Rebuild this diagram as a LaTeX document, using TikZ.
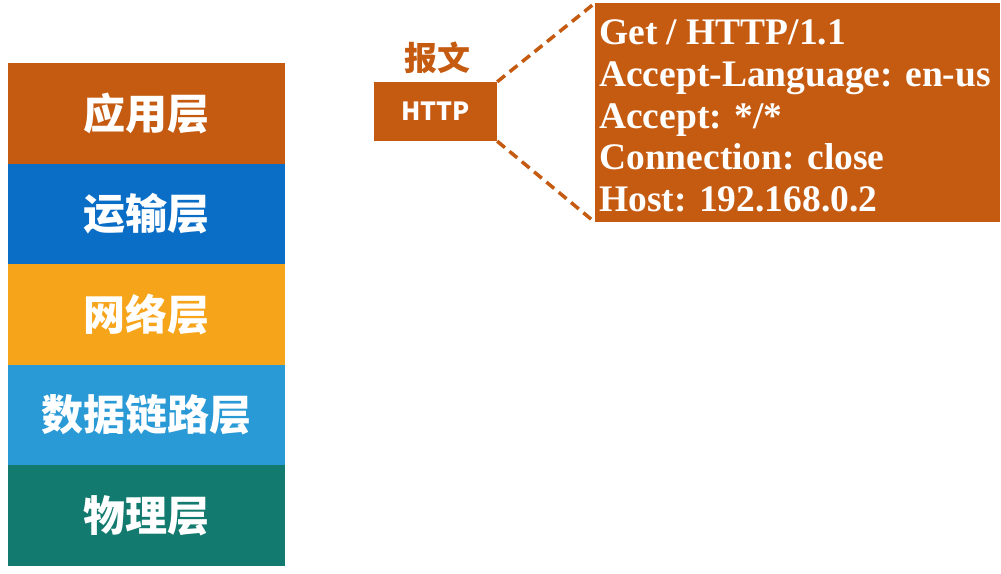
\documentclass[tikz,border=0pt]{standalone}
\usepackage{fontspec}
\setmainfont{Liberation Serif}
\newfontfamily\cjkfont{Noto Sans CJK SC}
\definecolor{appc}{HTML}{C55A11}
\definecolor{trac}{HTML}{0A6DC6}
\definecolor{netc}{HTML}{F6A41A}
\definecolor{dlc}{HTML}{2A9AD6}
\definecolor{phyc}{HTML}{127A6E}
\begin{document}
\begin{tikzpicture}[x=1pt,y=-1pt,
  layer/.style={minimum width=277pt,minimum height=100.6pt,inner sep=0pt,outer sep=0pt,text=white,
    font=\cjkfont\bfseries\fontsize{42}{46}\selectfont},
  httpbox/.style={fill=appc,minimum width=123pt,minimum height=59pt,inner sep=0pt,text=white,
    font=\cjkfont\bfseries\fontsize{25}{30}\selectfont},
  detail/.style={fill=appc,minimum width=405pt,minimum height=219pt,inner sep=0pt},
  dtxt/.style={anchor=west,text=white,font=\bfseries\fontsize{37.5}{41.7}\selectfont,align=left,inner sep=0pt},
  dashline/.style={appc,line width=3.5pt,dash pattern=on 10pt off 6pt}]
\useasboundingbox (0,0) rectangle (1001,573);
\fill[white] (0,0) rectangle (1001,573);
\node[layer,fill=appc] (app) at (146.5,113.3) {应用层};
\node[layer,fill=trac] (tra) at (146.5,213.9) {运输层};
\node[layer,fill=netc] (net) at (146.5,314.5) {网络层};
\node[layer,fill=dlc] (dl) at (146.5,415.1) {数据链路层};
\node[layer,fill=phyc] (phy) at (146.5,515.7) {物理层};
\node[httpbox] (http) at (435.5,111.5) {HTTP};
\node[text=appc,font=\cjkfont\bfseries\fontsize{33}{36}\selectfont] (lbl) at (437,58) {报文};
\node[detail,anchor=north west] (det) at (595,3) {};
\node[dtxt] (dtext) at (599,116)
  {Get / HTTP/1.1\\Accept-Language: en-us\\Accept: */*\\Connection: close\\Host: 192.168.0.2};
\draw[dashline] (http.north east) -- (det.north west);
\draw[dashline] (http.south east) -- (det.south west);
\end{tikzpicture}
\end{document}
